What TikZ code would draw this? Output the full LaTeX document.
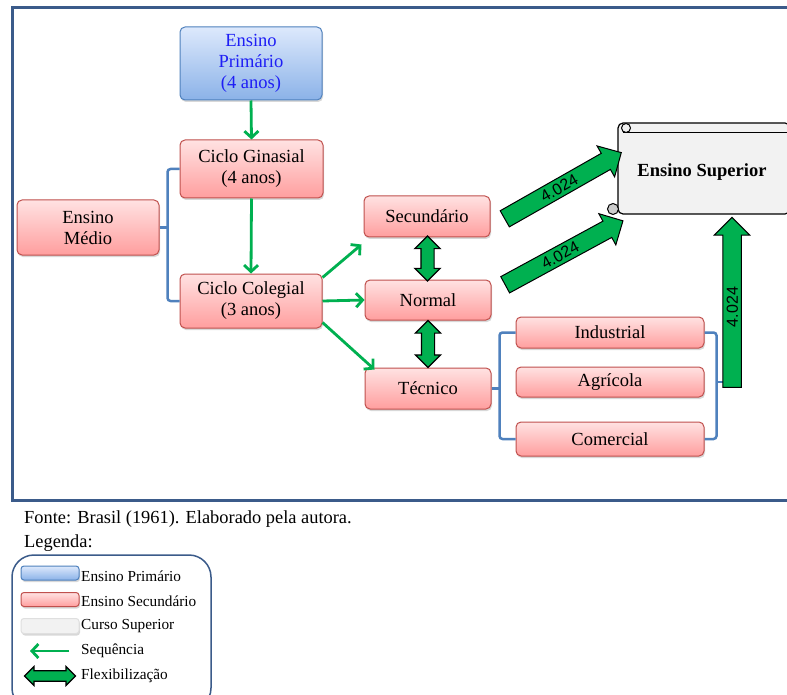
\documentclass[tikz,border=0pt]{standalone}
\usepackage{fontspec}
\setmainfont{Liberation Serif}
\newfontfamily\arialfont{Liberation Sans}
\usetikzlibrary{arrows.meta,shapes.arrows,shadows,calc,positioning}

\definecolor{framecol}{RGB}{59,91,138}
\definecolor{brkcol}{RGB}{79,129,189}
\definecolor{seqgreen}{RGB}{0,176,80}
\definecolor{redtop}{RGB}{255,226,226}
\definecolor{redbot}{RGB}{255,158,158}
\definecolor{redline}{RGB}{192,80,77}
\definecolor{bluetop}{RGB}{221,233,252}
\definecolor{bluebot}{RGB}{139,178,232}
\definecolor{blueline}{RGB}{79,129,189}
\definecolor{primtext}{RGB}{30,30,245}
\definecolor{supgray}{RGB}{242,242,242}

\tikzset{
  secbox/.style={rounded corners=5pt, draw=redline, line width=1pt, top color=redtop, bottom color=redbot,
    align=center, font=\fontsize{18.5}{21}\selectfont, inner sep=0pt,
    drop shadow={opacity=0.3, shadow xshift=1pt, shadow yshift=-2pt}},
  primbox/.style={secbox, draw=blueline, top color=bluetop, bottom color=bluebot, text=primtext},
  seqarrow/.style={draw=seqgreen, line width=2.8pt, -{Straight Barb[length=6.5pt,width=14pt,line width=2.8pt]}},
  brk/.style={draw=brkcol, line width=2.5pt, rounded corners=3pt},
  bigarrow/.style={single arrow, draw=black, line width=1pt, fill=seqgreen, single arrow head extend=8.5pt,
    minimum width=34pt, inner xsep=2pt, inner ysep=3pt, text height=11.5pt, text depth=0pt,
    font=\arialfont\fontsize{16}{16}\selectfont},
  flexarrow/.style={double arrow, draw=black, line width=1.2pt, fill=seqgreen, inner xsep=0pt, inner ysep=6pt,
    minimum width=24pt, double arrow head extend=6pt},
  legtext/.style={anchor=west, inner sep=0pt, font=\fontsize{15.3}{17}\selectfont}
}

\begin{document}
\begin{tikzpicture}[x=1pt,y=1pt,yscale=-1]
\clip (0,0) rectangle (787,695);
\fill[white] (0,0) rectangle (787,695);

%Frame
\draw[framecol, line width=3pt] (12,8) rectangle (800,500);

% Boxes
\node[primbox, minimum width=142pt, minimum height=73pt] (prim) at (251,63.5) {Ensino\\Primário\\(4 anos)};
\node[secbox, minimum width=143pt, minimum height=58pt] (gin) at (251.5,169) {Ciclo Ginasial\\(4 anos)};
\node[secbox, minimum width=142pt, minimum height=55pt] (med) at (88,227.5) {Ensino\\Médio};
\node[secbox, minimum width=142pt, minimum height=54pt] (col) at (251,301) {Ciclo Colegial\\(3 anos)};
\node[secbox, minimum width=126pt, minimum height=41pt] (sec) at (427,216.5) {Secundário};
\node[secbox, minimum width=126pt, minimum height=40pt] (nor) at (428,300) {Normal};
\node[secbox, minimum width=126pt, minimum height=41pt] (tec) at (428,388.5) {Técnico};
\node[secbox, minimum width=188pt, minimum height=31pt] (ind) at (610,332.5) {Industrial};
\node[secbox, minimum width=188pt, minimum height=30pt] (agr) at (610,382) {Agrícola};
\node[secbox, minimum width=188pt, minimum height=34pt] (com) at (610,439) {Comercial};

%Shape: Scroll
\filldraw[fill=supgray, draw=black, line width=1.2pt, rounded corners=5pt] (618,214) -- (618,123) -- (790,123) -- (790,214) -- cycle;
\draw[line width=1pt] (623,133) -- (790,133);
\filldraw[fill=supgray, draw=black, line width=1pt] (626,128) circle (4.5);
\filldraw[fill=gray!40, draw=black, line width=1pt] (613,209) circle (5.5);
\node[font=\bfseries\fontsize{18.5}{20}\selectfont] (sup) at (702,172) {Ensino Superior};

% Brackets
\draw[brk] (gin.west) -- ++(-12,0) coordinate (lbt) -- (lbt |- col.west) -- (col.west);
\draw[brk] (med.east) -- (lbt |- med.east);
\draw[brk] (ind.west) -- ++(-16,0) coordinate (tbt) -- (tbt |- com.west) -- (com.west);
\draw[brk] (tec.east) -- (tbt |- tec.east);
\draw[brk] (ind.east) -- ++(12,0) coordinate (rbt) -- (rbt |- com.east) -- (com.east);
\draw[brk] (rbt |- agr.east) -- ++(11,0);

% Sequence
\draw[seqarrow] (prim.south) -- (gin.north);
\draw[seqarrow] (gin.south) -- (col.north);
\draw[seqarrow] ($(col.north east)+(0,4)$) -- ($(sec.south west)+(-2,7)$);
\draw[seqarrow] (col.east) -- (nor.west);
\draw[seqarrow] ($(col.south east)+(0,-6)$) -- ($(tec.north west)+(10,2)$);

% Flexibilization
\node[flexarrow, rotate=90, minimum height=45pt] (flex1) at ($(sec.south)!0.5!(nor.north)$) {};
\node[flexarrow, rotate=90, minimum height=47pt] (flex2) at ($(nor.south)!0.5!(tec.north)$) {};

% Big arrows to Ensino Superior
\node[bigarrow, rotate=29.6, minimum height=134pt] (up1) at (559,188) {4.024};
\node[bigarrow, rotate=28.5, minimum height=134pt] (up2) at (560,255) {4.024};
\node[bigarrow, rotate=90, minimum height=170pt] (up3) at (732,307) {4.024};

% Text Node
\node[anchor=west, inner sep=0pt, font=\fontsize{18.4}{20}\selectfont] (fonte) at (24,519) {Fonte: Brasil (1961). Elaborado pela autora.};
\node[anchor=west, inner sep=0pt, font=\fontsize{18.4}{20}\selectfont] (legenda) at (24,543) {Legenda:};

% Legend
\draw[framecol, line width=1.5pt, rounded corners=22pt] (12,555) rectangle (211,710);
\node[primbox, minimum width=58pt, minimum height=14pt, rounded corners=3pt] (lprim) at (50,573) {};
\node[secbox, minimum width=58pt, minimum height=14pt, rounded corners=3pt] (lsec) at (50,599.5) {};
\node[fill=supgray, draw=gray!25, line width=1pt, minimum width=58pt, minimum height=15pt, rounded corners=3pt,
  drop shadow={opacity=0.3, shadow xshift=1pt, shadow yshift=-2pt}] (lsup) at (50,626) {};
\coordinate (lseqa) at (69,651);
\coordinate (lseqb) at (30,651);
\draw[seqarrow, line width=2.2pt] (lseqa) -- (lseqb);
\node[flexarrow, minimum height=51pt, minimum width=19pt, inner ysep=4.5pt, double arrow head extend=4pt] (lflex) at (50,676) {};
\node[legtext] (tprim) at (81,576) {Ensino Primário};
\node[legtext] (tsec) at (81,601) {Ensino Secundário};
\node[legtext] (tsup) at (81,626) {Curso Superior};
\node[legtext] (tseq) at (81,651) {Sequência};
\node[legtext] (tflex) at (81,676) {Flexibilização};

\end{tikzpicture}
\end{document}
